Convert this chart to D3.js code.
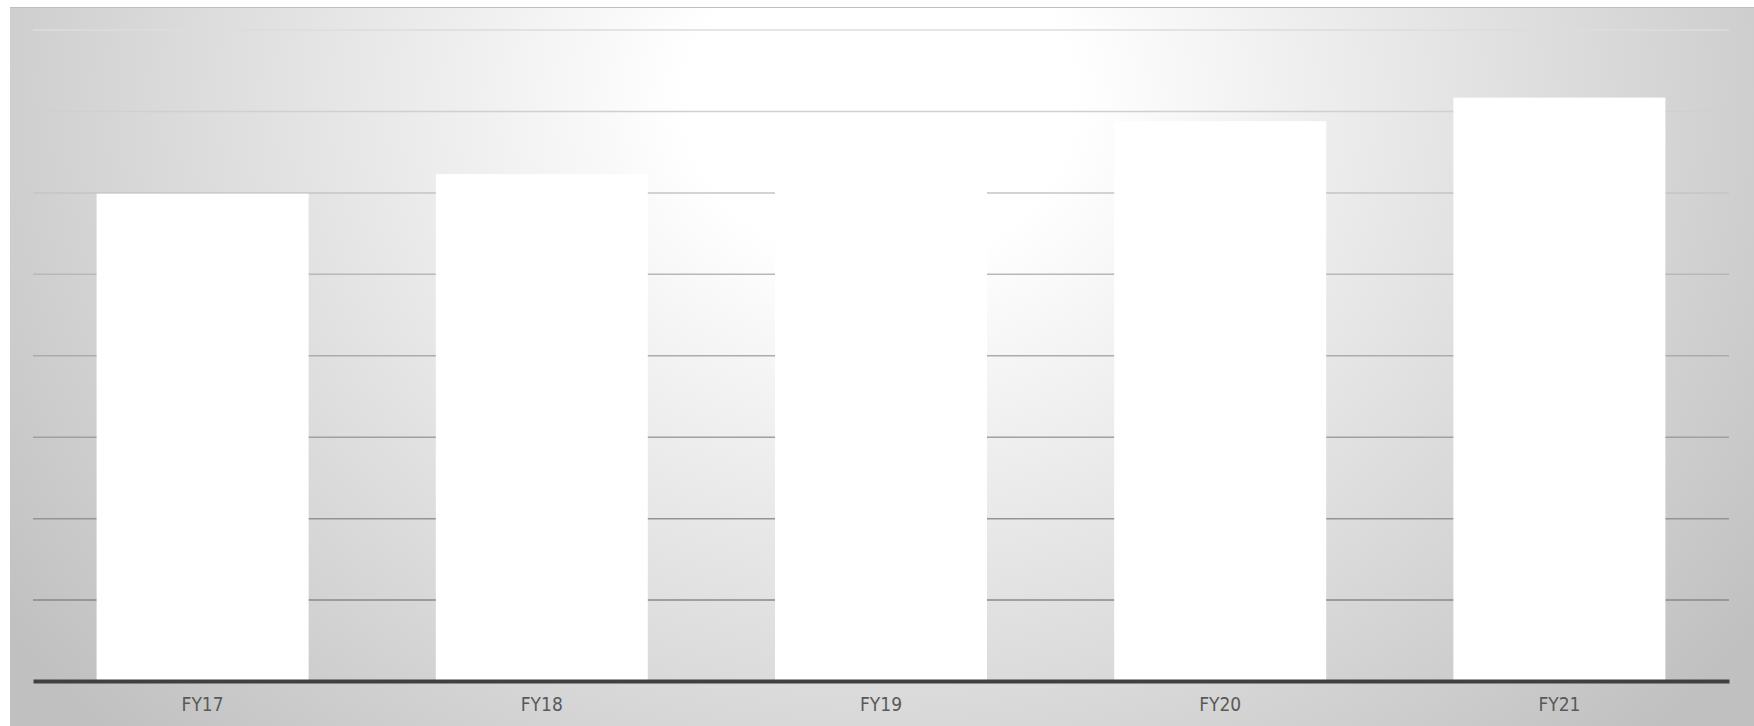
<!DOCTYPE html>
<html>
<head>
<meta charset="utf-8">
<script src="https://cdnjs.cloudflare.com/ajax/libs/d3/7.8.5/d3.min.js"></script>
<style>
  html, body { margin: 0; padding: 0; background: #ffffff; }
  svg { display: block; }
</style>
</head>
<body>
<svg id="chart" width="1754" height="726"></svg>
<script>
// chart data
const categories = ["FY17", "FY18", "FY19", "FY20", "FY21"];
const values = [59.9, 62.3, 66.7, 68.8, 71.7];
const gridTicks = [10, 20, 30, 40, 50, 60, 70, 80];

const svg = d3.select("#chart");
const W = +svg.attr("width"), H = +svg.attr("height");

const margin = {top: 30, right: 25, bottom: 44.5, left: 33};
const plotW = W - margin.left - margin.right;
const plotH = H - margin.top - margin.bottom;

// background with soft radial light near the top centre
const defs = svg.append("defs");
const grad = defs.append("radialGradient")
    .attr("id", "bgGrad")
    .attr("gradientUnits", "userSpaceOnUse")
    .attr("cx", 880).attr("cy", 100).attr("r", 960)
    .attr("gradientTransform", "translate(880,100) scale(1.12,0.95) translate(-880,-100)");
grad.selectAll("stop")
    .data([
      {offset: "0%", color: "#ffffff"},
      {offset: "18%", color: "#ffffff"},
      {offset: "100%", color: "#c0c0c0"}
    ])
  .enter().append("stop")
    .attr("offset", d => d.offset)
    .attr("stop-color", d => d.color);

svg.append("rect")
    .attr("x", 10).attr("y", 7)
    .attr("width", W - 10).attr("height", H - 7)
    .attr("fill", "url(#bgGrad)");

svg.append("line")
    .attr("x1", 10).attr("x2", W)
    .attr("y1", 7.5).attr("y2", 7.5)
    .attr("stroke", "#bdbdbd")
    .attr("stroke-width", 1);

const g = svg.append("g")
    .attr("transform", "translate(" + margin.left + "," + margin.top + ")");

const x = d3.scaleBand()
    .domain(categories)
    .range([0, plotW])
    .paddingInner(0.375)
    .paddingOuter(0.1875);

const y = d3.scaleLinear()
    .domain([0, 80])
    .range([plotH, 0]);

// gridlines get darker towards the bottom
const gridColor = d3.scaleLinear()
    .domain([0, 80])
    .range(["#7c7c7c", "#dcdcdc"])
    .interpolate(d3.interpolateRgb);

g.append("g")
    .attr("class", "grid")
  .selectAll("line")
  .data(gridTicks)
  .enter().append("line")
    .attr("x1", 0).attr("x2", plotW)
    .attr("y1", d => y(d)).attr("y2", d => y(d))
    .attr("stroke", d => gridColor(d))
    .attr("stroke-width", 1.5);

g.append("g")
    .attr("class", "bars")
  .selectAll("rect")
  .data(categories)
  .enter().append("rect")
    .attr("x", d => x(d))
    .attr("y", (d, i) => y(values[i]))
    .attr("width", x.bandwidth())
    .attr("height", (d, i) => y(0) - y(values[i]))
    .attr("fill", "#ffffff");

const xAxis = g.append("g")
    .attr("class", "axis axis--x")
    .attr("transform", "translate(0," + (plotH - 0.5) + ")")
    .call(d3.axisBottom(x).tickSize(0).tickPadding(17));

xAxis.select(".domain")
    .attr("stroke", "#404040")
    .attr("stroke-width", 4);

xAxis.selectAll("text")
    .attr("fill", "#595959")
    .style("font-family", "'Liberation Sans Narrow', 'DejaVu Sans Condensed', 'Liberation Sans', sans-serif")
    .style("font-size", "19px");
</script>
</body>
</html>
